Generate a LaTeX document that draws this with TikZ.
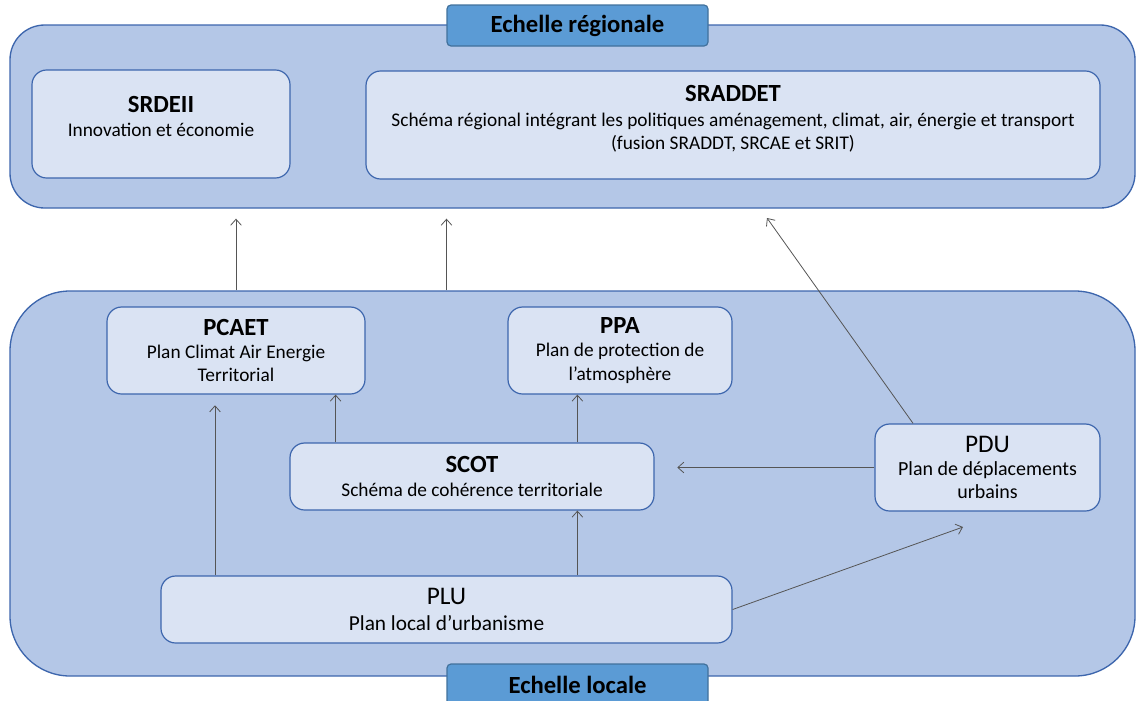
\documentclass[tikz,border=0pt]{standalone}
\usepackage{fontspec}
\setmainfont{Carlito}
\usetikzlibrary{arrows.meta, positioning}
\definecolor{zonefill}{HTML}{B4C7E7}
\definecolor{boxfill}{HTML}{DAE3F3}
\definecolor{tabfill}{HTML}{5B9BD5}
\definecolor{boxline}{HTML}{3D66AD}
\definecolor{tabline}{HTML}{41719C}
\definecolor{arrline}{HTML}{555555}
\newcommand{\boxtitle}[1]{{\fontsize{18.5}{21}\selectfont\bfseries #1}}
\newcommand{\plaintitle}[1]{{\fontsize{19}{22}\selectfont #1}}

\begin{document}
\begin{tikzpicture}[
            x=0.75pt, y=-0.75pt,
            zone/.style={draw=boxline, fill=zonefill, line width=1pt, inner sep=0pt},
            planbox/.style={draw=boxline, fill=boxfill, line width=0.9pt, rounded corners=11pt,
                            align=center, inner sep=0pt, font=\fontsize{14.5}{17.5}\selectfont},
            tabbox/.style={draw=tabline, fill=tabfill, line width=0.9pt, rounded corners=3pt,
                           minimum width=195.75pt, minimum height=30.75pt, inner sep=0pt,
                           font=\fontsize{18.5}{21}\selectfont\bfseries},
            arr/.style={-{Straight Barb[length=4.5pt, width=8pt]}, draw=arrline, line width=0.6pt},
            ]
            \useasboundingbox (0,0) rectangle (1137,700);

            \node[zone, rounded corners=26pt, minimum width=843.75pt, minimum height=137.25pt] (regional) at (572.5,116.5) {};
            \node[zone, rounded corners=45pt, minimum width=843.75pt, minimum height=288.75pt] (local)    at (572.5,483.5) {};

            \node[planbox, minimum width=193.5pt, minimum height=81pt]    (srdeii)  at (161,124)   {\boxtitle{SRDEII}\\[1pt] Innovation et économie\\[-6pt]};
            \node[planbox, minimum width=550.5pt, minimum height=81pt]    (sraddet) at (733,125)   {\boxtitle{SRADDET}\\[1pt] Schéma régional intégrant les politiques aménagement, climat, air, énergie et transport\\ (fusion SRADDT, SRCAE et SRIT)\\[-6pt]};
            \node[planbox, minimum width=193.5pt, minimum height=65.25pt] (pcaet)   at (236,350.5) {\boxtitle{PCAET}\\ Plan Climat Air Energie\\ Territorial};
            \node[planbox, minimum width=168pt,   minimum height=65.25pt] (ppa)     at (620,350.5) {\boxtitle{PPA}\\ Plan de protection de\\ l’atmosphère};
            \node[planbox, minimum width=273pt,   minimum height=50.25pt] (scot)    at (472,476.5) {\boxtitle{SCOT}\\ Schéma de cohérence territoriale};
            \node[planbox, minimum width=168.75pt, minimum height=65.25pt] (pdu)    at (987.5,467.5) {\plaintitle{PDU}\\ {\fontsize{15}{17.5}\selectfont Plan de déplacements}\\ {\fontsize{15}{17.5}\selectfont urbains}};
            \node[planbox, minimum width=428.25pt, minimum height=50.25pt] (plu)    at (446.5,609.5) {\plaintitle{PLU}\\[2pt] {\fontsize{16}{18}\selectfont Plan local d’urbanisme}};

            \coordinate (pdutip)     at (963,527);
            \coordinate (sraddettip) at (767,218);

            \draw[arr, shorten >=7.5pt] (pcaet |- local.north) -- (pcaet |- regional.south);
            \draw[arr, shorten >=7.5pt] (plu |- local.north) -- (plu |- regional.south);
            \draw[arr] ([xshift=29pt]pdu.north west) -- (sraddettip);
            \draw[arr, shorten >=8pt] ([xshift=-15.75pt]pcaet.south |- plu.north) -- ([xshift=-15.75pt]pcaet.south);
            \draw[arr] ([xshift=-22.5pt]pcaet.south east |- scot.north) -- ([xshift=-22.5pt]pcaet.south east);
            \draw[arr] ([xshift=52.5pt]ppa.south west |- scot.north) -- ([xshift=52.5pt]ppa.south west);
            \draw[arr] ([xshift=52.5pt]ppa.south west |- plu.north) -- ([xshift=52.5pt]ppa.south west |- scot.south);
            \draw[arr, shorten >=17pt] (pdu.west) -- (pdu.west -| scot.east);
            \draw[arr] (plu.east) -- (pdutip);

            \node[tabbox] (regtab) at (577.5,25.5) {Echelle régionale};
            \node[tabbox] (loctab) at (577.5,684.5) {Echelle locale};
\end{tikzpicture}
\end{document}
